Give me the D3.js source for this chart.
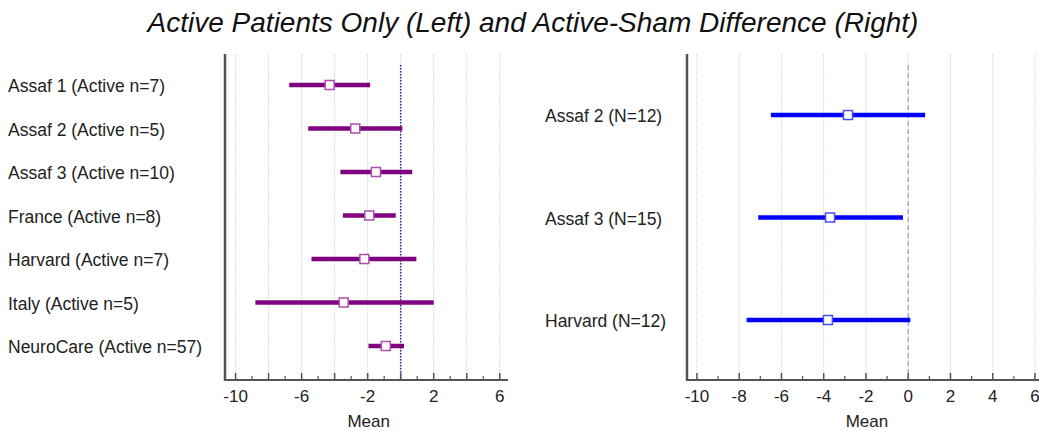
<!DOCTYPE html>
<html>
<head>
<meta charset="utf-8">
<script src="https://cdn.jsdelivr.net/npm/d3@7"></script>
<style>
  html, body { margin: 0; padding: 0; background: #fff; }
  svg { display: block; font-family: "Liberation Sans", Arial, sans-serif; }
</style>
</head>
<body>
<svg id="chart" width="1039" height="430"></svg>
<script>
// Left panel: active patients only
const leftStudies = ["Assaf 1 (Active n=7)", "Assaf 2 (Active n=5)", "Assaf 3 (Active n=10)",
  "France (Active n=8)", "Harvard (Active n=7)", "Italy (Active n=5)", "NeuroCare (Active n=57)"];
const leftMean = [-4.3, -2.75, -1.5, -1.9, -2.2, -3.45, -0.9];
const leftLow  = [-6.75, -5.6, -3.65, -3.5, -5.4, -8.8, -1.95];
const leftHigh = [-1.85, 0.1, 0.7, -0.3, 0.95, 2.0, 0.2];
const leftTickLabels = [-10, -6, -2, 2, 6];

// Right panel: active minus sham difference
const rightStudies = ["Assaf 2 (N=12)", "Assaf 3 (N=15)", "Harvard (N=12)"];
const rightMean = [-2.85, -3.7, -3.8];
const rightLow  = [-6.5, -7.1, -7.65];
const rightHigh = [0.8, -0.25, 0.1];
const rightTickLabels = [-10, -8, -6, -4, -2, 0, 2, 4, 6];

const svg = d3.select("#chart");

svg.append("text")
  .attr("x", 533).attr("y", 32)
  .attr("text-anchor", "middle")
  .attr("font-style", "italic")
  .attr("font-size", 28)
  .attr("fill", "#111")
  .text("Active Patients Only (Left) and Active-Sham Difference (Right)");

function panel(opts) {
  const { studies, mean, low, high, x, y, color, labelX, refStyle, tickLabels } = opts;
  const g = svg.append("g");
  const [x0, x1] = x.range();
  const yTop = 54, yBot = 380;

  // vertical gridlines at every 2 units
  const gridVals = d3.range(-10, 7, 2);
  g.selectAll("line.grid").data(gridVals).join("line")
    .attr("x1", d => x(d)).attr("x2", d => x(d))
    .attr("y1", yTop).attr("y2", yBot)
    .attr("stroke", "#dcdcdc").attr("stroke-width", 1)
    .attr("stroke-dasharray", "2,1");

  // zero reference line
  g.append("line")
    .attr("x1", x(0)).attr("x2", x(0))
    .attr("y1", 65).attr("y2", yBot)
    .attr("stroke", refStyle.color).attr("stroke-width", refStyle.width)
    .attr("stroke-dasharray", refStyle.dash);

  // bottom axis with inward ticks
  const minor = d3.range(-10, 7, 1).filter(v => v % 2 !== 0);
  g.selectAll("line.minor").data(minor).join("line")
    .attr("x1", d => x(d)).attr("x2", d => x(d))
    .attr("y1", yBot).attr("y2", yBot - 4)
    .attr("stroke", "#555").attr("stroke-width", 1.2);
  g.selectAll("line.major").data(gridVals).join("line")
    .attr("x1", d => x(d)).attr("x2", d => x(d))
    .attr("y1", yBot).attr("y2", yBot - 7)
    .attr("stroke", "#555").attr("stroke-width", 1.5);
  g.selectAll("text.tick").data(tickLabels).join("text")
    .attr("x", d => x(d)).attr("y", yBot + 22)
    .attr("text-anchor", "middle")
    .attr("font-size", 17).attr("fill", "#222")
    .text(d => d);

  g.append("line")
    .attr("x1", x0).attr("x2", x1).attr("y1", yBot).attr("y2", yBot)
    .attr("stroke", "#555").attr("stroke-width", 2);
  g.append("line")
    .attr("x1", x0).attr("x2", x0).attr("y1", yTop).attr("y2", yBot + 1)
    .attr("stroke", "#555").attr("stroke-width", 2.5);

  g.append("text")
    .attr("x", (x(-10) + x(6)) / 2 + 1).attr("y", yBot + 47)
    .attr("text-anchor", "middle")
    .attr("font-size", 17).attr("fill", "#222")
    .text("Mean");

  // study labels
  g.selectAll("text.lab").data(studies).join("text")
    .attr("x", labelX).attr("y", d => y(d) + 7)
    .attr("font-size", 17.5).attr("fill", "#222")
    .text(d => d);

  // interval bars
  g.selectAll("line.ci").data(studies).join("line")
    .attr("x1", (d, i) => x(low[i])).attr("x2", (d, i) => x(high[i]))
    .attr("y1", d => y(d)).attr("y2", d => y(d))
    .attr("stroke", color).attr("stroke-width", 4.5);

  // mean markers
  const s = 9;
  g.selectAll("rect.mean").data(studies).join("rect")
    .attr("x", (d, i) => x(mean[i]) - s / 2).attr("y", d => y(d) - s / 2)
    .attr("width", s).attr("height", s)
    .attr("fill", "#fff").attr("stroke", opts.markerStroke).attr("stroke-width", 1.5);
}

panel({
  studies: leftStudies, mean: leftMean, low: leftLow, high: leftHigh,
  x: d3.scaleLinear().domain([-10.64, 6.5]).range([225, 508]),
  y: d3.scalePoint().domain(leftStudies).range([85, 346]),
  color: "#800080", markerStroke: "#b04cb0", labelX: 8,
  refStyle: { color: "#2a2a9a", width: 1.5, dash: "1.5,1.5" },
  tickLabels: leftTickLabels
});

panel({
  studies: rightStudies, mean: rightMean, low: rightLow, high: rightHigh,
  x: d3.scaleLinear().domain([-10.47, 6.9]).range([687, 1054]),
  y: d3.scalePoint().domain(rightStudies).range([115, 320]),
  color: "#0000ff", markerStroke: "#4a4aff", labelX: 545,
  refStyle: { color: "#9a9ae0", width: 1.2, dash: "5,3" },
  tickLabels: rightTickLabels
});
</script>
</body>
</html>
